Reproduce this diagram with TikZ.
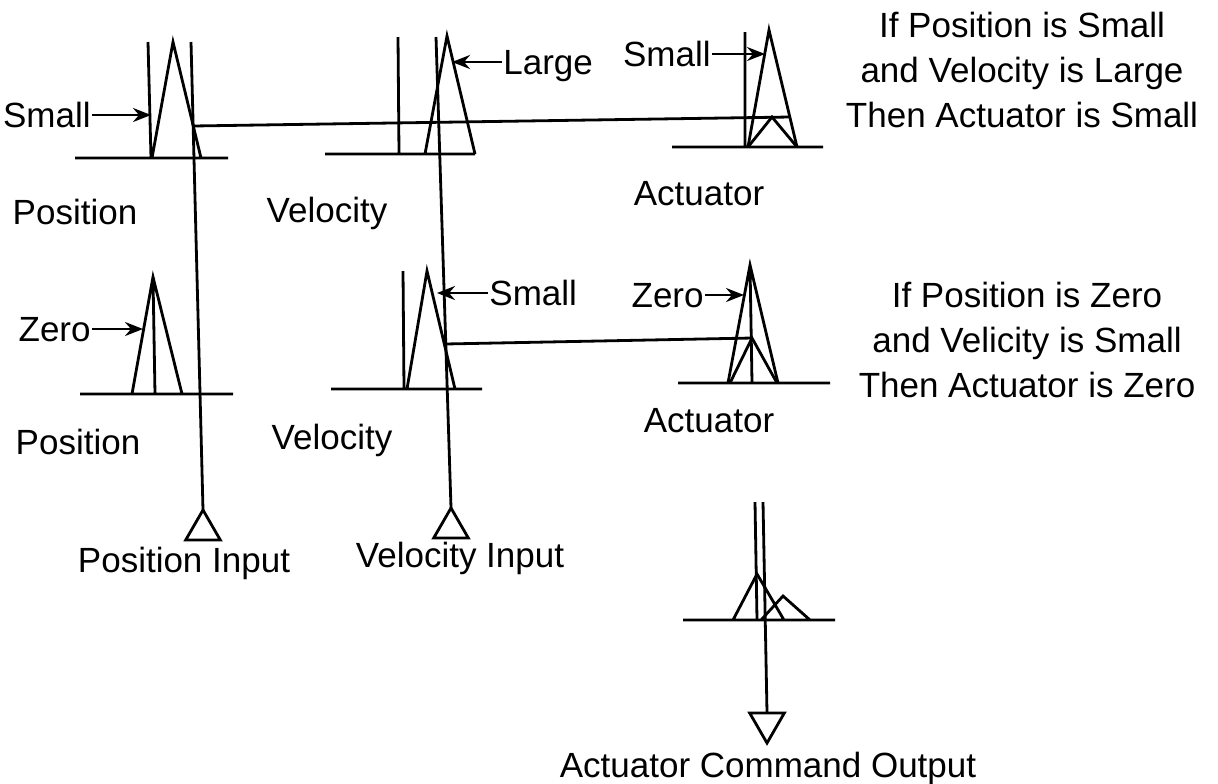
\documentclass[tikz,border=0pt]{standalone}
\usepackage{fontspec}
\setmainfont{Liberation Sans}
\usetikzlibrary{arrows.meta,shapes.geometric}
\definecolor{ink}{HTML}{000000}

\begin{document}
\begin{tikzpicture}[x=.5pt,y=-.5pt,line width=1.4pt,draw=ink,>={Stealth[length=9pt,width=7pt,inset=3pt]},
  lab/.style={font=\fontsize{17.5}{22.5}\selectfont,text=ink,inner sep=0pt,text height=12.5pt,text depth=0pt},
  rule/.style={font=\fontsize{17.5}{22.5}\selectfont,text=ink,align=center,inner sep=0pt},
  port/.style={regular polygon,regular polygon sides=3,draw=ink,minimum size=20pt,inner sep=0pt,outer sep=0pt}]
\useasboundingbox (0,0) rectangle (1218,783);
\draw (75,158)--(228,158) (148,42)--(151,158) (152,158)--(173,42)--(201,158);
\draw (325,154)--(475,154) (398,37)--(399,154) (425,154)--(447,36)--(475,154);
\draw (672,147)--(823,147) (745,32)--(745,147) (748,147)--(769,30)--(797,147);
\draw (748,147)--(772,117)--(797,147);
\draw (80,394)--(233,394) (132,394)--(153,277)--(182,394) (153,277)--(155,394);
\draw (331,389)--(482,389) (403,271)--(404,389) (407,389)--(427,271)--(455,389);
\draw (678,383)--(830,383) (728,383)--(750,265)--(778,383) (750,265)--(752,383);
\draw (730,383)--(752,338)--(777,383);
\draw (683,620)--(835,620) (733,620)--(757,574)--(784,620) (761,620)--(783,596)--(810,620);
\draw (755,502)--(757,620);
\coordinate (ptop) at (191,42);
\coordinate (vtop) at (436,37);
\coordinate (otop) at (763,502);
\coordinate (r1a) at (193,126);
\coordinate (r1b) at (790,117);
\coordinate (r2a) at (445,344);
\coordinate (r2b) at (752,338);
\node[port] (pin) at (203,530) {};
\node[port] (vin) at (451,528) {};
\node[port,shape border rotate=180] (aout) at (767,723) {};
\draw (ptop) -- (pin.corner 1);
\draw (vtop) -- (vin.corner 1);
\draw (otop) -- (aout.north);
\draw (r1a) -- (r1b);
\draw (r2a) -- (r2b);
\foreach \nm/\tx/\px/\py in {p1/Position/75/212,v1/Velocity/327/210,a1/Actuator/699/193,p2/Position/78/442,v2/Velocity/332/437,a2/Actuator/709/420}
  \node[lab] (\nm) at (\px,\py) {\tx};
\node[lab] (pinl) at (184,560) {Position Input};
\node[lab] (vinl) at (460,555) {Velocity Input};
\node[lab] (aoutl) at (768,765) {Actuator Command Output};
\node[lab,anchor=east] (s1) at (92,115) {Small};
\node[lab,anchor=west] (l1) at (502,62) {Large};
\node[lab,anchor=east] (s2) at (712,54) {Small};
\node[lab,anchor=east] (z1) at (92,329) {Zero};
\node[lab,anchor=west] (s3) at (488,293) {Small};
\node[lab,anchor=east] (z2) at (705,295) {Zero};
\coordinate (s1t) at (151,115);
\coordinate (l1t) at (452,62);
\coordinate (s2t) at (765,54);
\coordinate (z1t) at (143,329);
\coordinate (s3t) at (437,293);
\coordinate (z2t) at (744,295);
\draw[->] (s1) -- (s1t);
\draw[->] (l1) -- (l1t);
\draw[->] (s2) -- (s2t);
\draw[->] (z1) -- (z1t);
\draw[->] (s3) -- (s3t);
\draw[->] (z2) -- (z2t);
\node[rule] (rule1) at (1022,70) {If Position is Small\\and Velocity is Large\\Then Actuator is Small};
\node[rule] (rule2) at (1027,340) {If Position is Zero\\and Velicity is Small\\Then Actuator is Zero};
\end{tikzpicture}
\end{document}
